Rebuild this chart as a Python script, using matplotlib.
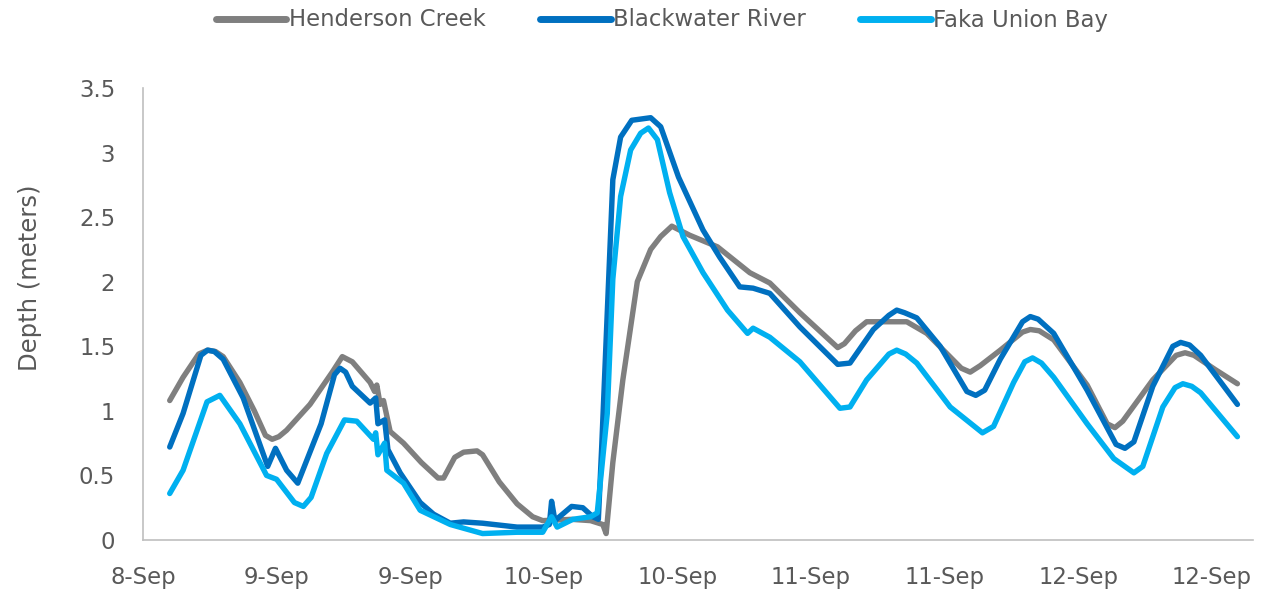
import matplotlib
matplotlib.use("Agg")
import matplotlib.pyplot as plt

# hours after 8-Sep 12:00
henderson_h = [2.4, 3.6, 5.0, 5.8, 6.5, 7.2, 8.7, 10.0, 11.0, 11.6, 12.2, 12.9, 15.0, 17.0, 17.9, 18.8,
               20.4, 20.8, 21.0, 21.3, 21.6, 22.2, 23.4, 25.0, 26.5, 27.0, 28.0, 28.8, 30.0, 30.5, 32.0, 33.6,
               35.0, 35.9, 38.5, 40.2, 41.3, 41.6, 42.2, 43.1, 44.4, 45.6, 46.5, 47.5, 49.1, 51.6, 54.5, 56.3,
               59.0, 62.4, 63.0, 64.0, 65.0, 68.6, 70.4, 73.5, 74.3, 75.2, 77.0, 79.0, 79.7, 80.5, 81.8, 84.8,
               86.6, 87.3, 88.0, 90.7, 92.8, 93.6, 94.4, 96.3, 98.3]
henderson_d = [1.08, 1.26, 1.44, 1.47, 1.46, 1.42, 1.22, 1.00, 0.81, 0.78, 0.80, 0.85, 1.05, 1.30, 1.42, 1.38,
               1.22, 1.15, 1.20, 1.05, 1.08, 0.84, 0.75, 0.60, 0.48, 0.48, 0.64, 0.68, 0.69, 0.66, 0.45, 0.28,
               0.18, 0.15, 0.16, 0.15, 0.12, 0.05, 0.60, 1.24, 2.00, 2.25, 2.35, 2.43, 2.36, 2.27, 2.07, 1.99,
               1.76, 1.49, 1.52, 1.62, 1.69, 1.69, 1.60, 1.33, 1.30, 1.35, 1.47, 1.61, 1.63, 1.62, 1.55, 1.20,
               0.90, 0.87, 0.92, 1.24, 1.43, 1.45, 1.43, 1.32, 1.21]

blackwater_h = [2.4, 3.6, 5.2, 5.8, 6.4, 7.2, 9.0, 11.2, 11.9, 12.9, 13.9, 16.0, 17.2, 17.7, 18.2, 18.8,
                20.4, 20.9, 21.1, 21.7, 22.0, 23.1, 24.9, 26.1, 27.6, 28.8, 30.5, 33.6, 35.9, 36.5, 36.7, 37.0,
                38.5, 39.5, 40.4, 40.9, 41.2, 41.7, 42.2, 42.9, 43.9, 45.6, 46.5, 48.1, 50.3, 51.8, 53.6, 54.8,
                56.3, 59.0, 62.4, 63.5, 65.6, 67.0, 67.7, 68.4, 69.5, 71.6, 74.0, 74.8, 75.6, 77.0, 79.0, 79.7,
                80.4, 81.8, 84.8, 87.4, 88.2, 89.0, 90.7, 92.5, 93.2, 94.0, 95.0, 98.3]
blackwater_d = [0.72, 0.98, 1.43, 1.47, 1.46, 1.40, 1.10, 0.57, 0.71, 0.54, 0.44, 0.90, 1.28, 1.33, 1.30, 1.19,
                1.06, 1.10, 0.90, 0.93, 0.70, 0.52, 0.29, 0.20, 0.13, 0.14, 0.13, 0.10, 0.10, 0.12, 0.30, 0.15,
                0.26, 0.25, 0.18, 0.16, 0.72, 1.76, 2.79, 3.12, 3.25, 3.27, 3.20, 2.81, 2.40, 2.19, 1.96, 1.95,
                1.91, 1.65, 1.36, 1.37, 1.63, 1.74, 1.78, 1.76, 1.72, 1.50, 1.15, 1.12, 1.16, 1.40, 1.69, 1.73,
                1.71, 1.60, 1.16, 0.74, 0.71, 0.76, 1.19, 1.50, 1.53, 1.51, 1.43, 1.05]

faka_h = [2.4, 3.6, 5.75, 6.9, 8.7, 11.1, 12.0, 13.6, 14.4, 15.1, 16.5, 18.1, 19.2, 20.7, 20.9, 21.1,
          21.7, 21.9, 23.4, 24.9, 27.6, 30.5, 33.6, 35.9, 36.7, 37.2, 38.6, 40.2, 40.8, 41.7, 42.2, 42.9,
          43.8, 44.7, 45.4, 46.2, 47.3, 48.5, 50.3, 52.5, 54.3, 54.8, 56.3, 59.0, 62.6, 63.5, 65.0, 67.0,
          67.7, 68.5, 69.5, 72.5, 75.4, 76.4, 78.2, 79.2, 79.9, 80.7, 81.8, 84.8, 87.2, 89.0, 89.8, 91.6,
          92.7, 93.4, 94.2, 95.0, 98.3]
faka_d = [0.36, 0.54, 1.07, 1.12, 0.90, 0.50, 0.47, 0.29, 0.26, 0.33, 0.67, 0.93, 0.92, 0.78, 0.83, 0.66,
          0.75, 0.54, 0.44, 0.23, 0.12, 0.05, 0.06, 0.06, 0.18, 0.10, 0.16, 0.18, 0.21, 0.98, 2.02, 2.66,
          3.02, 3.15, 3.19, 3.10, 2.69, 2.35, 2.07, 1.78, 1.60, 1.64, 1.57, 1.38, 1.02, 1.03, 1.24, 1.44,
          1.47, 1.44, 1.37, 1.03, 0.83, 0.88, 1.22, 1.38, 1.41, 1.37, 1.26, 0.90, 0.63, 0.52, 0.57, 1.03,
          1.18, 1.21, 1.19, 1.14, 0.80]

tick_hours = [0, 12, 24, 36, 48, 60, 72, 84, 96]
tick_labels = ["8-Sep", "9-Sep", "9-Sep", "10-Sep", "10-Sep", "11-Sep", "11-Sep", "12-Sep", "12-Sep"]

txt = "#595959"
axis_col = "#BFBFBF"
fs = 16.4

fig = plt.figure(figsize=(12.65, 5.96), dpi=100)
ax = fig.add_axes([143 / 1265, 56 / 596, 1110 / 1265, 452 / 596])

lw = 3.9
style = dict(lw=lw, solid_joinstyle="round", solid_capstyle="round")
ax.plot(henderson_h, henderson_d, color="#7F7F7F", label="Henderson Creek", **style)
ax.plot(blackwater_h, blackwater_d, color="#0070C0", label="Blackwater River", **style)
ax.plot(faka_h, faka_d, color="#00B0F0", label="Faka Union Bay", **style)

ax.set_xlim(0, 99.7)
ax.set_ylim(0, 3.5)
ax.set_xticks(tick_hours)
ax.set_xticklabels(tick_labels)
ax.set_yticks([0, 0.5, 1, 1.5, 2, 2.5, 3, 3.5])
ax.set_yticklabels(["0", "0.5", "1", "1.5", "2", "2.5", "3", "3.5"])
ax.tick_params(axis="both", length=0, labelsize=fs, colors=txt)
ax.tick_params(axis="y", pad=20)
ax.tick_params(axis="x", pad=19)

for s in ["top", "right"]:
    ax.spines[s].set_visible(False)
for s in ["left", "bottom"]:
    ax.spines[s].set_color(axis_col)
    ax.spines[s].set_linewidth(1.2)

ax.set_ylabel("Depth (meters)", fontsize=17.5, color=txt)
ax.yaxis.set_label_coords(-0.091, 0.58)

leg = fig.legend(loc="center", bbox_to_anchor=(662 / 1265, 1 - 20 / 596), ncol=3, frameon=False,
                 fontsize=fs, labelcolor=txt, handlelength=3.1, handletextpad=0.1, columnspacing=2.4)
for line in leg.get_lines():
    line.set_linewidth(5)

fig.savefig("out.png", dpi=100)
